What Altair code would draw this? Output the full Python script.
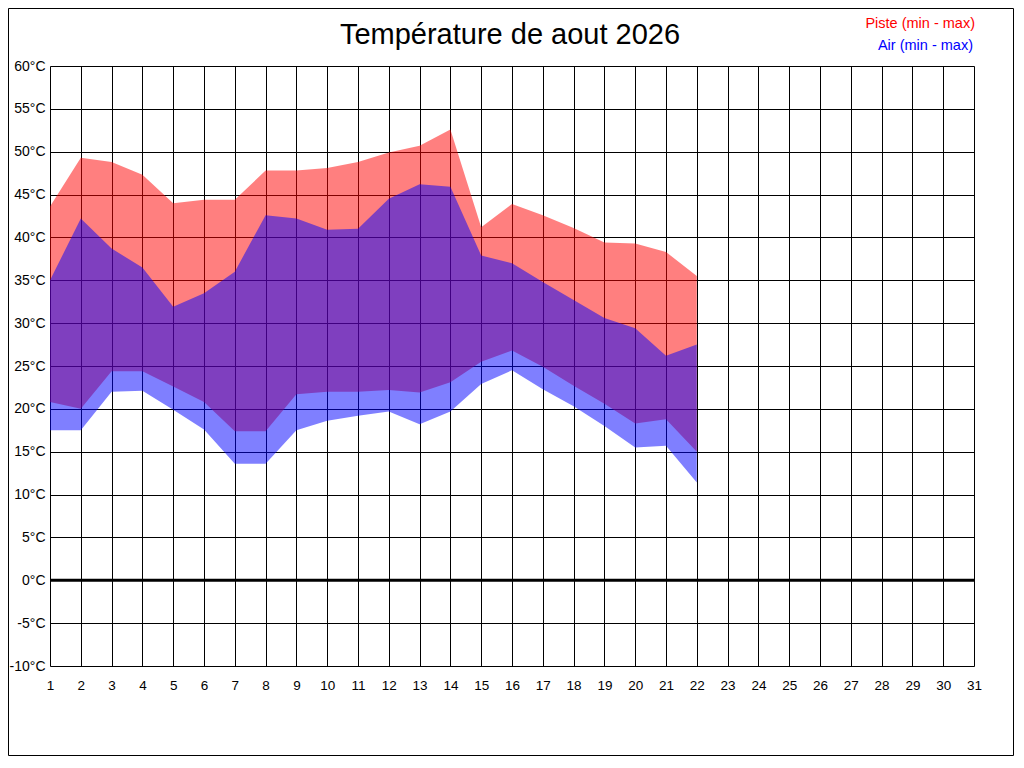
import altair as alt
import pandas as pd

title_text = "Température de aout 2026"
series_names = ["Piste (min - max)", "Air (min - max)"]
series_colors = ["#FF0000", "#0000FF"]

days = list(range(1, 23))
piste_max = [43.6, 49.3, 48.8, 47.3, 44.0, 44.4, 44.4, 47.8, 47.8, 48.1, 48.8,
             49.9, 50.7, 52.6, 41.2, 43.9, 42.6, 41.1, 39.4, 39.3, 38.3, 35.5]
piste_min = [20.8, 20.0, 24.4, 24.4, 22.6, 20.8, 17.4, 17.4, 21.7, 22.0, 22.0,
             22.2, 21.9, 23.1, 25.5, 26.8, 24.9, 22.7, 20.6, 18.3, 18.8, 15.0]
air_max = [35.0, 42.2, 38.7, 36.5, 31.9, 33.5, 36.0, 42.6, 42.2, 40.9, 41.0,
           44.5, 46.2, 45.9, 37.9, 37.0, 34.8, 32.7, 30.6, 29.4, 26.2, 27.5]
air_min = [17.5, 17.5, 22.0, 22.1, 19.9, 17.6, 13.6, 13.6, 17.5, 18.6, 19.2,
           19.7, 18.2, 19.7, 22.9, 24.5, 22.3, 20.3, 18.0, 15.5, 15.7, 11.4]

x_ticks = list(range(1, 32))
y_ticks = list(range(-10, 61, 5))

FONT = "Liberation Sans"

df = pd.DataFrame({
    "day": days,
    "piste_min": piste_min,
    "piste_max": piste_max,
    "air_min": air_min,
    "air_max": air_max,
})

xscale = alt.Scale(domain=[1, 31], nice=False, zero=False)
yscale = alt.Scale(domain=[-10, 60], nice=False, zero=False)

xaxis = alt.Axis(values=x_ticks, title=None, grid=True, gridColor="black",
                 gridOpacity=1, gridWidth=1, domain=False, ticks=False,
                 labelPadding=12, labelFontSize=13.5, labelFont=FONT,
                 labelColor="black", labelFlush=False, labelOverlap=False)
yaxis = alt.Axis(values=y_ticks, title=None, grid=True, gridColor="black",
                 gridOpacity=1, gridWidth=1, domain=False, ticks=False,
                 labelPadding=5, labelFontSize=14, labelFont=FONT,
                 labelColor="black", labelExpr="datum.value + '°C'",
                 labelFlush=False, labelOverlap=False)

base = alt.Chart(df)

piste = base.mark_area(color=series_colors[0], opacity=0.5).encode(
    x=alt.X("day:Q", scale=xscale, axis=xaxis),
    y=alt.Y("piste_min:Q", scale=yscale, axis=yaxis),
    y2="piste_max:Q",
)

air = base.mark_area(color=series_colors[1], opacity=0.5).encode(
    x=alt.X("day:Q", scale=xscale, axis=xaxis),
    y=alt.Y("air_min:Q", scale=yscale, axis=yaxis),
    y2="air_max:Q",
)

zero = alt.Chart(pd.DataFrame({"v": [0]})).mark_rule(
    color="black", strokeWidth=3
).encode(y=alt.Y("v:Q", scale=yscale, axis=yaxis))

frame = alt.Chart(pd.DataFrame({"a": [0]})).mark_rect(
    fill="transparent", stroke="black", strokeWidth=1
).encode(
    x=alt.value(-41.5), x2=alt.value(963.5),
    y=alt.value(-57.5), y2=alt.value(689.5),
)

title = alt.Chart(pd.DataFrame({"t": [title_text]})).mark_text(
    fontSize=29, font=FONT, align="center", baseline="alphabetic", color="black"
).encode(text="t:N", x=alt.value(460), y=alt.value(-22))

leg1 = alt.Chart(pd.DataFrame({"t": [series_names[0]]})).mark_text(
    fontSize=14.5, font=FONT, align="right", baseline="alphabetic",
    color=series_colors[0]
).encode(text="t:N", x=alt.value(925), y=alt.value(-38))

leg2 = alt.Chart(pd.DataFrame({"t": [series_names[1]]})).mark_text(
    fontSize=14.5, font=FONT, align="right", baseline="alphabetic",
    color=series_colors[1]
).encode(text="t:N", x=alt.value(923), y=alt.value(-16))

chart = alt.layer(piste, air, zero, frame, title, leg1, leg2).properties(
    width=924,
    height=600,
    padding={"left": 42, "top": 58, "right": 40, "bottom": 90},
    autosize=alt.AutoSizeParams(type="none"),
    background="white",
).configure_view(stroke="black", strokeWidth=1).configure(font=FONT)

chart.save("out.html", embed_options={"renderer": "svg", "actions": False})
